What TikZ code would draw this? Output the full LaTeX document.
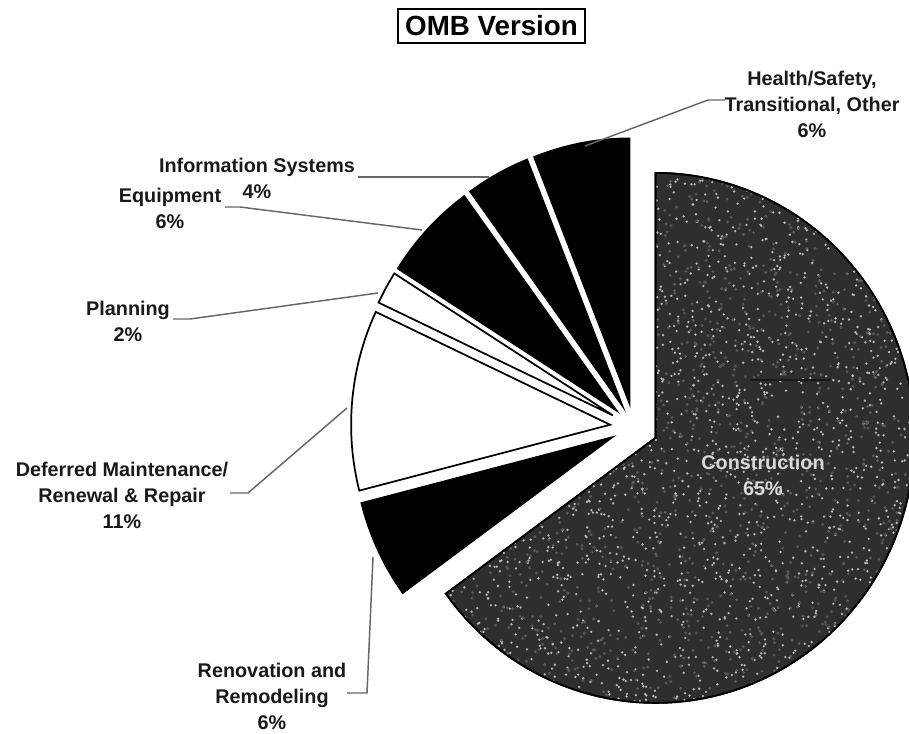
\documentclass[tikz,border=0pt]{standalone}
\usepackage{fontspec}
\setmainfont{Liberation Sans}
\usetikzlibrary{calc}
\newcommand\drawslice[5]{% #1 start angle, #2 end angle, #3 fill, #4 apex name, #5 explode distance
  \path (O) ++({(#1+#2)/2}:#5) coordinate (#4);
  \draw[slice,fill=#3] (#4) -- ++(#1:259 and 265) arc[start angle=#1, end angle=#2, x radius=259, y radius=265] -- cycle;
}
\begin{document}
\begin{tikzpicture}[x=0.75pt,y=0.75pt,
  slice/.style={draw=black,line width=1.3pt,line join=miter},
  lbl/.style={align=center,font=\bfseries\fontsize{14.85}{19.5}\selectfont,text=black!90,inner sep=0pt},
  leader/.style={draw=black!60,line width=1.1pt},
  titlebox/.style={draw=black,line width=0.9pt,minimum width=140.25pt,minimum height=25.5pt,inner sep=0pt,font=\bfseries\fontsize{20.8}{24}\selectfont}]
\useasboundingbox (0,0) rectangle (909,734);
\coordinate (O) at (634,307);

% slices
\drawslice{-144}{90}{black!82}{C}{24}
\begin{scope}
  \clip (C) -- ++(-144:259 and 265) arc[start angle=-144, end angle=90, x radius=259, y radius=265] -- cycle;
  \pgfmathsetseed{7}
  \foreach \i in {1,...,2600} {
    \fill[gray!55] ({652+262*rand},{297+268*rand}) circle (1.3);
  }
  \foreach \i in {1,...,1800} {
    \fill[black!65] ({652+262*rand},{297+268*rand}) circle (1.6);
  }
\end{scope}
\draw[slice,fill=none] (C) -- ++(-144:259 and 265) arc[start angle=-144, end angle=90, x radius=259, y radius=265] -- cycle;

\drawslice{194.4}{216}{black}{R}{24}
\drawslice{154.8}{194.4}{white}{D}{24}
\drawslice{147.6}{154.8}{white}{P}{24}
\drawslice{126}{147.6}{black}{E}{24}
\drawslice{111.6}{126}{black}{I}{24}
\drawslice{90}{111.6}{black}{H}{24}

% line inside construction slice
\coordinate (cl1) at (750,354);
\coordinate (cl2) at (830,354);
\draw[black!90,line width=1.6pt] (cl1) -- (cl2);

% title
\node[titlebox] (title) at (491.5,708) {OMB Version};

% labels
\node[lbl] (hlth) at (812,630) {Health/Safety,\\Transitional, Other\\6\%};
\node[lbl] (info) at (257,555.5) {Information Systems\\4\%};
\node[lbl] (equip) at (170,525.5) {Equipment\\6\%};
\node[lbl] (plan) at (128,412.5) {Planning\\2\%};
\node[lbl] (defer) at (122,239) {Deferred Maintenance/\\Renewal \& Repair\\11\%};
\node[lbl] (renov) at (272,38) {Renovation and\\Remodeling\\6\%};
\node[lbl,text=black!15] (cons) at (763,259) {Construction\\65\%};

% leader lines
\coordinate (hl1) at (585,588);
\coordinate (hl2) at (708,634);
\coordinate (hl3) at (725,634);
\draw[leader] (hl1) -- (hl2) -- (hl3);

\coordinate (il1) at (358,557);
\coordinate (il2) at (489,557);
\draw[leader] (il1) -- (il2);

\coordinate (el1) at (225,527);
\coordinate (el2) at (240,527);
\coordinate (el3) at (422,504);
\draw[leader] (el1) -- (el2) -- (el3);

\coordinate (pl1) at (173,415);
\coordinate (pl2) at (190,415);
\coordinate (pl3) at (378,441);
\draw[leader] (pl1) -- (pl2) -- (pl3);

\coordinate (dl1) at (230,241);
\coordinate (dl2) at (248,241);
\coordinate (dl3) at (347,326);
\draw[leader] (dl1) -- (dl2) -- (dl3);

\coordinate (rl1) at (347,41);
\coordinate (rl2) at (367,41);
\coordinate (rl3) at (373,177);
\draw[leader] (rl1) -- (rl2) -- (rl3);
\end{tikzpicture}
\end{document}
